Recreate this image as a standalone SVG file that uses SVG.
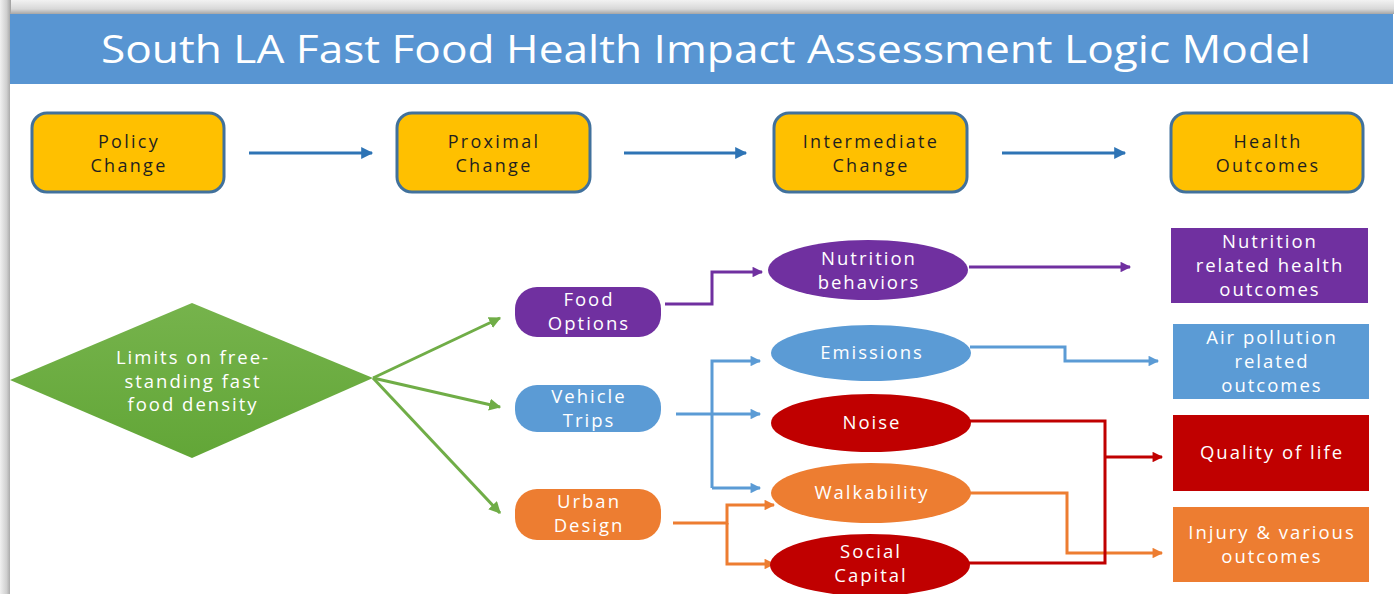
<svg xmlns="http://www.w3.org/2000/svg" width="1394" height="594" viewBox="0 0 1394 594">
<defs>
<linearGradient id="topShade" x1="0" y1="0" x2="0" y2="1">
<stop offset="0" stop-color="#f2f2f2"/>
<stop offset="0.6" stop-color="#d8d8d8"/>
<stop offset="1" stop-color="#9c9c9c"/>
</linearGradient>
<linearGradient id="leftShade" x1="0" y1="0" x2="1" y2="0">
<stop offset="0" stop-color="#f0f0f0"/>
<stop offset="0.6" stop-color="#cfcfcf"/>
<stop offset="1" stop-color="#a0a0a0"/>
</linearGradient>
<linearGradient id="diamondFill" x1="0" y1="0" x2="0" y2="1">
<stop offset="0" stop-color="#76b34c"/>
<stop offset="1" stop-color="#62a637"/>
</linearGradient>
<marker id="aBlueDark" viewBox="0 0 10 10" refX="9" refY="5" markerWidth="4.5" markerHeight="4" orient="auto" markerUnits="strokeWidth"><path d="M0,0 L10,5 L0,10 z" fill="#2e74b5"/></marker>
<marker id="aGreen" viewBox="0 0 10 10" refX="9" refY="5" markerWidth="4" markerHeight="4" orient="auto" markerUnits="strokeWidth"><path d="M0,0 L10,5 L0,10 z" fill="#70ad47"/></marker>
<marker id="aPurple" viewBox="0 0 10 10" refX="9" refY="5" markerWidth="4" markerHeight="3.5" orient="auto" markerUnits="strokeWidth"><path d="M0,0 L10,5 L0,10 z" fill="#7030a0"/></marker>
<marker id="aBlue" viewBox="0 0 10 10" refX="9" refY="5" markerWidth="4" markerHeight="3.5" orient="auto" markerUnits="strokeWidth"><path d="M0,0 L10,5 L0,10 z" fill="#5b9bd5"/></marker>
<marker id="aRed" viewBox="0 0 10 10" refX="9" refY="5" markerWidth="4" markerHeight="3.5" orient="auto" markerUnits="strokeWidth"><path d="M0,0 L10,5 L0,10 z" fill="#c00000"/></marker>
<marker id="aOrange" viewBox="0 0 10 10" refX="9" refY="5" markerWidth="4" markerHeight="3.5" orient="auto" markerUnits="strokeWidth"><path d="M0,0 L10,5 L0,10 z" fill="#ed7d31"/></marker>
</defs>
<style>
text{font-family:"Open Sans","Noto Sans","Liberation Sans",sans-serif;fill:#ffffff;text-anchor:middle;}
.title{font-size:38px;}
.stage rect{fill:#ffc000;stroke:#41719c;stroke-width:3;}
.stage text{fill:#1f1f1f;font-size:18px;letter-spacing:2.3px;}
.lbl{font-size:18.5px;letter-spacing:2px;}
.purple{fill:#7030a0;}
.blue{fill:#5b9bd5;}
.red{fill:#c00000;}
.orange{fill:#ed7d31;}
.conn path,.conn line{fill:none;stroke-width:3;}
.c-dblue{stroke:#2e74b5;stroke-width:3.5;}
.c-green{stroke:#70ad47;}
.c-purple{stroke:#7030a0;}
.c-blue{stroke:#5b9bd5;}
.c-red{stroke:#c00000;}
.c-orange{stroke:#ed7d31;}
</style>
<!-- background and slide frame -->
<rect x="0" y="0" width="1394" height="594" fill="#e8e8e8"/>
<rect x="0" y="0" width="1394" height="15" fill="url(#topShade)"/>
<rect x="0" y="0" width="11" height="594" fill="url(#leftShade)"/>
<rect x="10" y="14" width="1384" height="580" fill="#ffffff"/>
<rect id="title-bar" x="10" y="14" width="1383" height="70" fill="#5895d2"/>
<text class="title" x="706" y="63" textLength="1210" lengthAdjust="spacingAndGlyphs">South LA Fast Food Health Impact Assessment Logic Model</text>

<!-- connectors -->
<g id="connectors" class="conn">
<line class="c-dblue" x1="249" y1="153" x2="372" y2="153" marker-end="url(#aBlueDark)"/>
<line class="c-dblue" x1="624" y1="153" x2="746" y2="153" marker-end="url(#aBlueDark)"/>
<line class="c-dblue" x1="1002" y1="153" x2="1125" y2="153" marker-end="url(#aBlueDark)"/>

<line class="c-green" x1="373" y1="378" x2="500" y2="318" marker-end="url(#aGreen)"/>
<line class="c-green" x1="373" y1="378" x2="500" y2="407" marker-end="url(#aGreen)"/>
<line class="c-green" x1="373" y1="378" x2="500" y2="513" marker-end="url(#aGreen)"/>

<path class="c-purple" d="M665,304 H712 V272 H762" marker-end="url(#aPurple)"/>
<path class="c-purple" d="M969,267 H1130" marker-end="url(#aPurple)"/>

<path class="c-blue" d="M676,414 H760" marker-end="url(#aBlue)"/>
<path class="c-blue" d="M712,488 V361 H760" marker-end="url(#aBlue)"/>
<path class="c-blue" d="M712,488 H760" marker-end="url(#aBlue)"/>
<path class="c-blue" d="M970,347 H1065 V361 H1158" marker-end="url(#aBlue)"/>

<path class="c-orange" d="M673,523 H727 V505 H774" marker-end="url(#aOrange)"/>
<path class="c-orange" d="M727,523 V564 H774" marker-end="url(#aOrange)"/>
<path class="c-orange" d="M968,493 H1067 V553 H1162" marker-end="url(#aOrange)"/>

<path class="c-red" d="M968,421 H1105 V563 H968"/>
<path class="c-red" d="M1105,457 H1162" marker-end="url(#aRed)"/>
</g>

<!-- stage headers -->
<g id="policy-change" class="stage"><rect x="32" y="113" width="192" height="79" rx="15"/><text x="129" y="148">Policy</text><text x="129" y="172">Change</text></g>
<g id="proximal-change" class="stage"><rect x="397" y="113" width="193" height="79" rx="15"/><text x="494" y="148">Proximal</text><text x="494" y="172">Change</text></g>
<g id="intermediate-change" class="stage"><rect x="774" y="113" width="193" height="79" rx="15"/><text x="871" y="148">Intermediate</text><text x="871" y="172">Change</text></g>
<g id="health-outcomes" class="stage"><rect x="1171" y="113" width="192" height="79" rx="15"/><text x="1268" y="148">Health</text><text x="1268" y="172">Outcomes</text></g>

<!-- policy diamond -->
<g id="limits-diamond"><polygon points="10,380 192,303 373,378 192,458" fill="url(#diamondFill)"/>
<text class="lbl" x="193" y="364">Limits on free-</text><text class="lbl" x="193" y="388">standing fast</text><text class="lbl" x="193" y="411">food density</text></g>

<!-- proximal -->
<g id="food-options"><rect class="purple" x="515" y="287" width="146" height="50" rx="22"/><text class="lbl" x="589" y="306">Food</text><text class="lbl" x="589" y="330">Options</text></g>
<g id="vehicle-trips"><rect class="blue" x="515" y="385" width="146" height="47" rx="22"/><text class="lbl" x="589" y="403">Vehicle</text><text class="lbl" x="589" y="427">Trips</text></g>
<g id="urban-design"><rect class="orange" x="515" y="489" width="146" height="51" rx="22"/><text class="lbl" x="589" y="508">Urban</text><text class="lbl" x="589" y="532">Design</text></g>

<!-- intermediate -->
<g id="nutrition-behaviors"><ellipse class="purple" cx="868" cy="270" rx="100" ry="30"/><text class="lbl" x="869" y="265">Nutrition</text><text class="lbl" x="869" y="289">behaviors</text></g>
<g id="emissions"><ellipse class="blue" cx="871" cy="353" rx="100" ry="28"/><text class="lbl" x="872" y="359">Emissions</text></g>
<g id="noise"><ellipse class="red" cx="871" cy="423" rx="100" ry="29"/><text class="lbl" x="872" y="429">Noise</text></g>
<g id="walkability"><ellipse class="orange" cx="871" cy="493" rx="100" ry="30"/><text class="lbl" x="872" y="499">Walkability</text></g>
<g id="social-capital"><ellipse class="red" cx="870" cy="565" rx="100" ry="31"/><text class="lbl" x="871" y="558">Social</text><text class="lbl" x="871" y="582">Capital</text></g>

<!-- outcomes -->
<g id="nutrition-outcomes"><rect class="purple" x="1171" y="228" width="197" height="75"/><text class="lbl" x="1270" y="248">Nutrition</text><text class="lbl" x="1270" y="272">related health</text><text class="lbl" x="1270" y="296">outcomes</text></g>
<g id="air-pollution-outcomes"><rect class="blue" x="1173" y="324" width="196" height="75"/><text class="lbl" x="1272" y="344">Air pollution</text><text class="lbl" x="1272" y="368">related</text><text class="lbl" x="1272" y="392">outcomes</text></g>
<g id="quality-of-life"><rect class="red" x="1173" y="415" width="196" height="76"/><text class="lbl" x="1272" y="459">Quality of life</text></g>
<g id="injury-outcomes"><rect class="orange" x="1173" y="507" width="196" height="75"/><text class="lbl" x="1272" y="539">Injury &amp; various</text><text class="lbl" x="1272" y="563">outcomes</text></g>
</svg>
